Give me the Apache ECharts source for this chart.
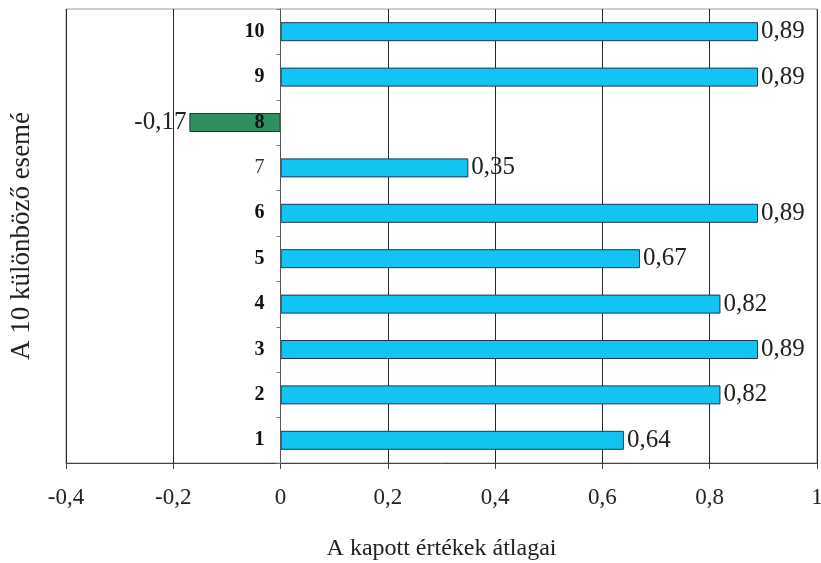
<!DOCTYPE html>
<html>
<head>
<meta charset="utf-8">
<script src="https://cdn.jsdelivr.net/npm/echarts@6/dist/echarts.min.js"></script>
<style>html,body{margin:0;padding:0;background:#fff}#c{width:821px;height:563px}</style>
</head>
<body>
<div id="c"></div>
<script>
const categories = ['1','2','3','4','5','6','7','8','9','10'];
const values = [0.64, 0.82, 0.89, 0.82, 0.67, 0.89, 0.35, -0.17, 0.89, 0.89];
const xTicks = { min: -0.4, max: 1, interval: 0.2 };
const xTitle = 'A kapott értékek átlagai';
const yTitle = 'A 10 különböző esemé';
const posColor = '#12C4F4';
const negColor = '#2F8F5E';
const serif = '"Liberation Serif", "DejaVu Serif", serif';

const fmt = v => String(Math.round(v * 100) / 100).replace('.', ',');

const W = 821, gridLeft = 66, gridRight = 4;
const plotW = W - gridLeft - gridRight;
// shift the category axis so it sits on x = 0 of the value axis
const zeroShift = (0 - xTicks.min) / (xTicks.max - xTicks.min) * plotW;

const chart = echarts.init(document.getElementById('c'));
chart.setOption({
  animation: false,
  backgroundColor: '#fff',
  grid: { left: gridLeft, right: gridRight, top: 9, bottom: 100, containLabel: false, outerBoundsMode: 'none',
          show: true, borderColor: '#9a9a9a', borderWidth: 1 },
  xAxis: {
    type: 'value', min: xTicks.min, max: xTicks.max, interval: xTicks.interval,
    axisLine: { show: true, lineStyle: { color: '#444', width: 1 } },
    axisTick: { show: true, length: 6, lineStyle: { color: '#444' } },
    splitLine: { show: true, lineStyle: { color: '#2a2a2a', width: 1 } },
    axisLabel: { margin: 23, fontFamily: serif, fontSize: 23, color: '#222', formatter: v => fmt(v) },
    name: xTitle, nameLocation: 'middle', nameGap: 74,
    nameTextStyle: { fontFamily: serif, fontSize: 24, color: '#222' }
  },
  yAxis: {
    type: 'category', data: categories, z: 5, position: 'left', offset: -zeroShift,
    axisLine: { show: true, onZero: false, lineStyle: { color: '#555', width: 1 } },
    axisTick: { show: true, length: 4, inside: false, lineStyle: { color: '#777' } },
    axisLabel: {
      margin: 16, fontFamily: serif, fontSize: 20, fontWeight: 'bold', color: '#111',
      formatter: v => v === '7' ? '{n|' + v + '}' : v,
      rich: { n: { fontFamily: serif, fontSize: 20, fontWeight: 'normal', color: '#333' } }
    },
    name: yTitle, nameLocation: 'middle', nameRotate: 90, nameGap: 245,
    nameTextStyle: { fontFamily: serif, fontSize: 27, color: '#222' }
  },
  series: [{
    type: 'bar', barWidth: 19,
    data: values.map(v => ({
      value: v,
      itemStyle: { color: v < 0 ? negColor : posColor, borderColor: '#1d3550', borderWidth: 1 },
      label: { position: v < 0 ? 'left' : 'right' }
    })),
    label: {
      show: true, distance: 3, fontFamily: serif, fontSize: 25, color: '#222',
      formatter: p => fmt(p.value)
    }
  }]
});
</script>
</body>
</html>
